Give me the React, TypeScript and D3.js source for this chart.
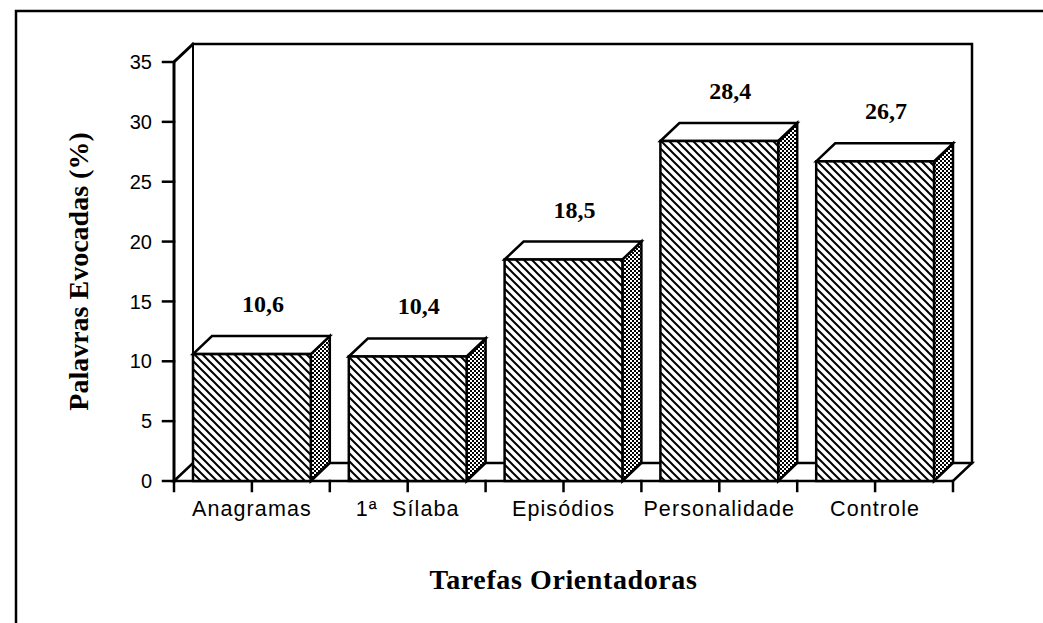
import { useEffect, useRef } from "react"
import * as d3 from "d3"

// Chart data
const categories = ["Anagramas", "1ª  Sílaba", "Episódios", "Personalidade", "Controle"]
const values = [10.6, 10.4, 18.5, 28.4, 26.7]
const valueLabels = ["10,6", "10,4", "18,5", "28,4", "26,7"]
const yTicks = [0, 5, 10, 15, 20, 25, 30, 35]

const W = 1043
const H = 623

export default function App() {
  const svgRef = useRef<SVGSVGElement>(null)

  useEffect(() => {
    if (!svgRef.current) return
    const svg = d3.select(svgRef.current)
    svg.selectAll("*").remove()

    // depth of the 3D effect
    const dx = 19
    const dy = 18

    const y = d3.scaleLinear().domain([0, 35]).range([481, 62])
    const x = d3.scaleBand<string>().domain(categories).range([174, 953]).padding(0)
    const bw = x.bandwidth()
    const x0 = x.range()[0]
    const x1 = x.range()[1]
    const y0 = y(0)
    const yTop = y(35)

    // patterns
    const defs = svg.append("defs")
    const p = 8
    const hatch = defs
      .append("pattern")
      .attr("id", "hatch")
      .attr("patternUnits", "userSpaceOnUse")
      .attr("width", p)
      .attr("height", p)
    hatch.append("rect").attr("width", p).attr("height", p).attr("fill", "#fff")
    hatch
      .append("path")
      .attr("d", `M0,0L${p},${p}M-2,${p - 2}L2,${p + 2}M${p - 2},-2L${p + 2},2`)
      .attr("stroke", "#000")
      .attr("stroke-width", 2)

    const dots = defs
      .append("pattern")
      .attr("id", "dots")
      .attr("patternUnits", "userSpaceOnUse")
      .attr("width", 4)
      .attr("height", 4)
    dots.append("rect").attr("width", 4).attr("height", 4).attr("fill", "#fff")
    dots.append("rect").attr("width", 2).attr("height", 2).attr("fill", "#000")
    dots.append("rect").attr("x", 2).attr("y", 2).attr("width", 2).attr("height", 2).attr("fill", "#000")

    // outer frame
    svg
      .append("path")
      .attr("d", `M16,${H}L16,11L${W},11`)
      .attr("fill", "none")
      .attr("stroke", "#000")
      .attr("stroke-width", 2.5)

    const g = svg.append("g").attr("stroke", "#000").attr("fill", "none").attr("stroke-linecap", "square")

    // back wall
    g.append("path")
      .attr("d", `M${x0 + dx},${y0 - dy}L${x0 + dx},${yTop - dy}`)
      .attr("stroke-width", 2)
    g.append("path")
      .attr("d", `M${x0 + dx},${yTop - dy}L${x1 + dx},${yTop - dy}L${x1 + dx},${y0 - dy}`)
      .attr("stroke-width", 2.5)

    // floor
    g.append("path")
      .attr("d", `M${x0},${y0}L${x0 + dx},${y0 - dy}L${x1 + dx},${y0 - dy}L${x1},${y0}Z`)
      .attr("fill", "#fff")
      .attr("stroke-width", 2.5)

    // front value axis
    g.append("path")
      .attr("d", `M${x0},${y0}L${x0},${yTop}L${x0 + dx},${yTop - dy}`)
      .attr("stroke-width", 3)

    g.selectAll(".ytick")
      .data(yTicks)
      .enter()
      .append("line")
      .attr("x1", x0 - 11)
      .attr("x2", x0)
      .attr("y1", (d) => y(d))
      .attr("y2", (d) => y(d))
      .attr("stroke-width", 2.5)

    svg
      .selectAll(".ylab")
      .data(yTicks)
      .enter()
      .append("text")
      .attr("x", x0 - 22)
      .attr("y", (d) => y(d))
      .attr("dy", "0.36em")
      .attr("text-anchor", "end")
      .attr("font-family", "Liberation Sans, Arial, sans-serif")
      .attr("font-size", 20)
      .text((d) => d)

    // bars
    const bars = svg.append("g").attr("stroke", "#000").attr("stroke-width", 2.5).attr("stroke-linejoin", "miter")
    categories.forEach((c, i) => {
      const fx = (x(c) as number) + dx
      const fw = bw - 2 * dx
      const top = y(values[i])
      // side
      bars
        .append("path")
        .attr("d", `M${fx + fw},${top}L${fx + fw + dx},${top - dy}L${fx + fw + dx},${y0 - dy}L${fx + fw},${y0}Z`)
        .attr("fill", "url(#dots)")
      // top
      bars
        .append("path")
        .attr("d", `M${fx},${top}L${fx + dx},${top - dy}L${fx + fw + dx},${top - dy}L${fx + fw},${top}Z`)
        .attr("fill", "#fff")
      // front
      bars
        .append("rect")
        .attr("x", fx)
        .attr("y", top)
        .attr("width", fw)
        .attr("height", y0 - top)
        .attr("fill", "url(#hatch)")
    })

    // value labels
    svg
      .selectAll(".vlab")
      .data(values)
      .enter()
      .append("text")
      .attr("x", (_d, i) => (x(categories[i]) as number) + bw / 2 + 11)
      .attr("y", (d) => y(d) - dy - 24)
      .attr("text-anchor", "middle")
      .attr("font-family", "Liberation Serif, Times New Roman, serif")
      .attr("font-weight", "bold")
      .attr("font-size", 24)
      .text((_d, i) => valueLabels[i])

    // category ticks
    const xt = [...categories.map((c) => (x(c) as number) + bw / 2), ...categories.map((c) => x(c) as number), x1]
    g.selectAll(".xtick")
      .data(xt)
      .enter()
      .append("line")
      .attr("x1", (d) => d)
      .attr("x2", (d) => d)
      .attr("y1", y0)
      .attr("y2", y0 + 10)
      .attr("stroke-width", 2.5)

    svg
      .selectAll(".xlab")
      .data(categories)
      .enter()
      .append("text")
      .attr("x", (d) => (x(d) as number) + bw / 2)
      .attr("y", 516)
      .attr("text-anchor", "middle")
      .attr("font-family", "Liberation Sans, Arial, sans-serif")
      .attr("font-size", 21.5)
      .attr("letter-spacing", 1.1)
      .style("white-space", "pre")
      .text((d) => d)

    // axis titles
    svg
      .append("text")
      .attr("transform", `translate(88,${(y0 + yTop) / 2}) rotate(-90)`)
      .attr("text-anchor", "middle")
      .attr("font-family", "Liberation Serif, Times New Roman, serif")
      .attr("font-weight", "bold")
      .attr("font-size", 28)
      .text("Palavras Evocadas (%)")

    svg
      .append("text")
      .attr("x", (x0 + x1) / 2)
      .attr("y", 589)
      .attr("text-anchor", "middle")
      .attr("font-family", "Liberation Serif, Times New Roman, serif")
      .attr("font-weight", "bold")
      .attr("font-size", 28)
      .attr("letter-spacing", 0.6)
      .text("Tarefas Orientadoras")
  }, [])

  return (
    <div style={{ position: "absolute", left: 0, top: 0, width: W, height: H, background: "#fff" }}>
      <svg ref={svgRef} width={W} height={H}></svg>
    </div>
  )
}
